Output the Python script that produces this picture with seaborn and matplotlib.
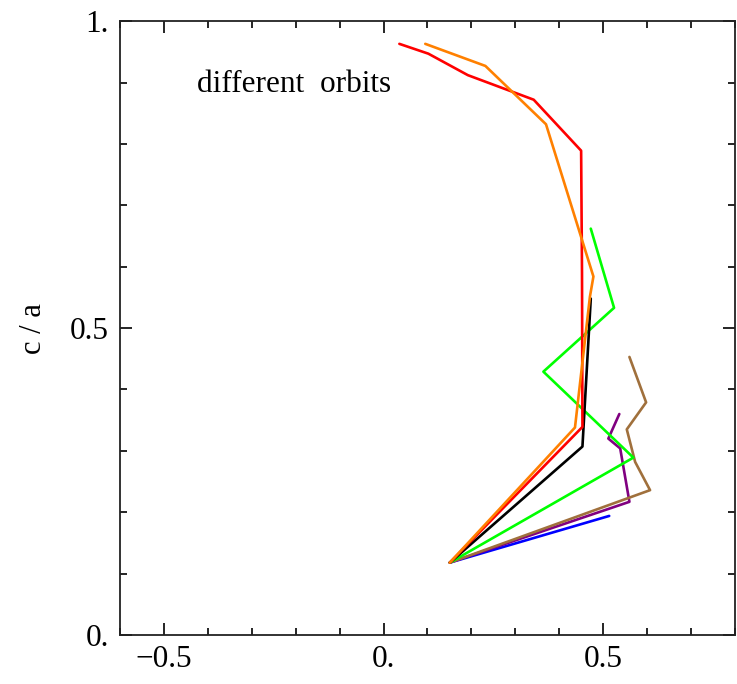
import matplotlib
matplotlib.use("Agg")
import matplotlib.pyplot as plt
import seaborn as sns
import pandas as pd
from matplotlib.ticker import FixedLocator, MultipleLocator

# Data
red_x = [0.151, 0.453, 0.452, 0.450, 0.342, 0.192, 0.102, 0.036]
red_y = [0.118, 0.339, 0.590, 0.789, 0.872, 0.912, 0.947, 0.963]
orange_x = [0.151, 0.436, 0.470, 0.478, 0.370, 0.232, 0.095]
orange_y = [0.118, 0.338, 0.551, 0.584, 0.832, 0.927, 0.963]
black_x = [0.151, 0.453, 0.472]
black_y = [0.118, 0.307, 0.548]
green_x = [0.151, 0.569, 0.364, 0.525, 0.472]
green_y = [0.118, 0.289, 0.429, 0.533, 0.662]
brown_x = [0.151, 0.607, 0.573, 0.554, 0.598, 0.560]
brown_y = [0.118, 0.236, 0.282, 0.335, 0.379, 0.453]
purple_x = [0.151, 0.560, 0.539, 0.512, 0.537]
purple_y = [0.118, 0.217, 0.304, 0.320, 0.360]
blue_x = [0.151, 0.514]
blue_y = [0.118, 0.194]

series = {
    "red": (red_x, red_y),
    "orange": (orange_x, orange_y),
    "black": (black_x, black_y),
    "green": (green_x, green_y),
    "brown": (brown_x, brown_y),
    "purple": (purple_x, purple_y),
    "blue": (blue_x, blue_y),
}
colors = {
    "red": "#FF0000",
    "orange": "#FF8000",
    "black": "#000000",
    "green": "#00FF00",
    "brown": "#A0703C",
    "purple": "#800080",
    "blue": "#0000FF",
}

rows = []
for name, (xs, ys) in series.items():
    for i, (xv, yv) in enumerate(zip(xs, ys)):
        rows.append({"orbit": name, "order": i, "x": xv, "y": yv})
df = pd.DataFrame(rows)

sns.set_style("ticks")
plt.rcParams["font.family"] = ["Liberation Serif", "DejaVu Serif"]
plt.rcParams["text.color"] = "black"
plt.rcParams["axes.labelcolor"] = "black"
plt.rcParams["xtick.color"] = "black"
plt.rcParams["ytick.color"] = "black"

fig = plt.figure(figsize=(7.37, 6.84), dpi=100)
ax = fig.add_axes([0.163, 0.0716, 0.834, 0.8975])

draw_order = ["blue", "purple", "brown", "green", "black", "red", "orange"]
for name in draw_order:
    sub = df[df["orbit"] == name]
    sns.lineplot(data=sub, x="x", y="y", sort=False, estimator=None,
                 color=colors[name], linewidth=1.9, ax=ax, legend=False)

ax.set_xlim(-0.6, 0.8)
ax.set_ylim(0, 1)

ax.xaxis.set_major_locator(FixedLocator([-0.5, 0.0, 0.5]))
ax.set_xticklabels(["\u22120.5", "0.", "0.5"])
ax.xaxis.set_minor_locator(MultipleLocator(0.1))
ax.yaxis.set_major_locator(FixedLocator([0.0, 0.5, 1.0]))
ax.set_yticklabels(["0.", "0.5", "1."])
ax.yaxis.set_minor_locator(MultipleLocator(0.1))

ax.tick_params(which="both", direction="in", top=True, right=True,
               width=1.2, color="black", labelcolor="black")
ax.tick_params(which="major", length=8.6, labelsize=22.5)
ax.tick_params(axis="x", which="major", pad=7)
ax.tick_params(axis="y", which="major", pad=8)
ax.tick_params(which="minor", length=4.8)
for sp in ax.spines.values():
    sp.set_linewidth(1.3)
    sp.set_color("#222222")

ax.set_xlabel("")
ax.set_ylabel("c / a", fontsize=22, labelpad=16, color="black")

ax.text(-0.425, 0.896, "different  orbits", fontsize=22.5, ha="left",
        va="center", color="black")

fig.savefig("out.png", dpi=100)
